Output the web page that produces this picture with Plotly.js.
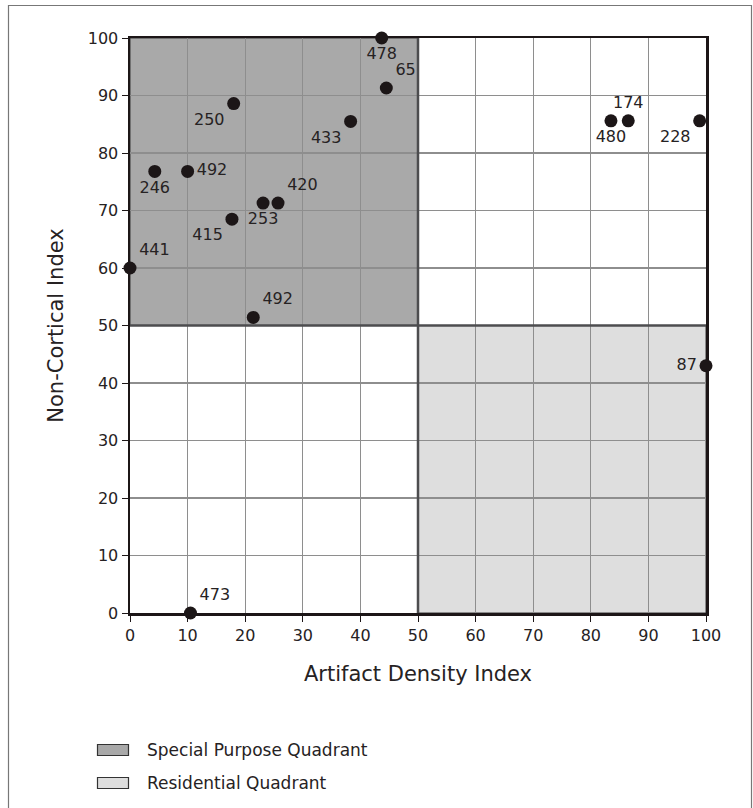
<!DOCTYPE html>
<html>
<head>
<meta charset="utf-8">
<script src="https://cdn.plot.ly/plotly-3.0.1.min.js"></script>
<style>
  html, body { margin: 0; padding: 0; background: #ffffff; }
  #chart { width: 753px; height: 808px; }
</style>
</head>
<body>
<div id="chart"></div>
<script>
// ---- data ----
const siteLabels = ['478', '65', '250', '433', '246', '492', '420', '253', '415', '441', '492', '480', '174', '228', '87', '473'];
const artifactDensity = [43.7, 44.5, 18.0, 38.3, 4.3, 10.0, 25.7, 23.1, 17.7, 0, 21.4, 83.5, 86.5, 98.9, 100, 10.5];
const nonCortical = [100, 91.3, 88.6, 85.5, 76.8, 76.8, 71.3, 71.3, 68.5, 60, 51.4, 85.6, 85.6, 85.6, 43, 0];
const labelPlacement = ['bottom center', 'top right', 'bottom left', 'bottom left', 'bottom center', 'middle right',
  'top right', 'bottom center', 'bottom left', 'top right', 'top right', 'bottom center', 'top center', 'bottom left',
  'middle left', 'top right'];

const axisMin = 0, axisMax = 100, quadrantSplit = 50;
const tickValues = [0, 10, 20, 30, 40, 50, 60, 70, 80, 90, 100];
const quadrantNames = ['Special Purpose Quadrant', 'Residential Quadrant'];
const quadrantColors = ['#a9a9a9', '#dedede'];
const xTitle = 'Artifact Density Index';
const yTitle = 'Non-Cortical Index';

const FONT = 'DejaVu Sans, sans-serif';
const INK = '#262223';

const points = {
  type: 'scatter',
  mode: 'markers+text',
  x: artifactDensity,
  y: nonCortical,
  text: siteLabels,
  textposition: labelPlacement,
  textfont: { family: FONT, size: 16, color: INK },
  marker: { size: 13, color: '#1c1617' },
  cliponaxis: false,
  showlegend: false,
  hoverinfo: 'x+y+text'
};

// helpers for converting figure pixels to paper coords (legend key placement)
const M = { l: 130, r: 47, t: 38, b: 195 };
const W = 753, H = 808;
const PW = W - M.l - M.r, PH = H - M.t - M.b;
const px = v => (v - M.l) / PW;
const py = v => (H - M.b - v) / PH;

const shapes = [
  // Special purpose quadrant (low artifact density, high non-cortical)
  { type: 'rect', xref: 'x', yref: 'y', layer: 'below',
    x0: axisMin, x1: quadrantSplit, y0: quadrantSplit, y1: axisMax,
    fillcolor: quadrantColors[0], line: { color: '#3a3a3a', width: 1 } },
  // Residential quadrant (high artifact density, low non-cortical)
  { type: 'rect', xref: 'x', yref: 'y', layer: 'below',
    x0: quadrantSplit, x1: axisMax, y0: axisMin, y1: quadrantSplit,
    fillcolor: quadrantColors[1], line: { color: '#3a3a3a', width: 1 } },
  // quadrant dividers
  { type: 'line', xref: 'x', yref: 'y', layer: 'above',
    x0: quadrantSplit, x1: quadrantSplit, y0: axisMin, y1: axisMax,
    line: { color: '#4d4d4f', width: 2.5 } },
  { type: 'line', xref: 'x', yref: 'y', layer: 'above',
    x0: axisMin, x1: axisMax, y0: quadrantSplit, y1: quadrantSplit,
    line: { color: '#4d4d4f', width: 2.5 } },
  // figure frame
  { type: 'rect', xref: 'paper', yref: 'paper', layer: 'below',
    x0: px(8.5), x1: px(751.5), y0: py(830), y1: py(5.5),
    line: { color: '#777777', width: 1.2 }, fillcolor: 'rgba(0,0,0,0)' }
];

// legend keys
const legendRows = [750, 783];
const annotations = [];
quadrantNames.forEach((name, i) => {
  const cy = legendRows[i];
  shapes.push({ type: 'rect', xref: 'paper', yref: 'paper', layer: 'above',
    x0: px(97.5), x1: px(128.5), y0: py(cy + 5.5), y1: py(cy - 5.5),
    fillcolor: quadrantColors[i], line: { color: '#333333', width: 1.2 } });
  annotations.push({ xref: 'paper', yref: 'paper', x: px(145), y: py(cy),
    xanchor: 'left', yanchor: 'middle', showarrow: false, text: name,
    font: { family: FONT, size: 17, color: INK } });
});

const axisCommon = {
  range: [axisMin, axisMax],
  tickvals: tickValues,
  ticktext: tickValues.map(String),
  showgrid: true,
  gridcolor: '#8e8e8e',
  gridwidth: 1.3,
  zeroline: false,
  showline: true,
  linecolor: '#1c1617',
  linewidth: 2.5,
  mirror: true,
  ticks: 'outside',
  ticklen: 6,
  tickwidth: 1,
  tickcolor: '#1c1617',
  tickfont: { family: FONT, size: 16, color: INK },
  fixedrange: true,
  automargin: false
};

const layout = {
  width: W,
  height: H,
  margin: M,
  paper_bgcolor: '#ffffff',
  plot_bgcolor: '#ffffff',
  font: { family: FONT, color: INK },
  xaxis: Object.assign({}, axisCommon, {
    title: { text: xTitle, font: { family: FONT, size: 21, color: INK }, standoff: 23 }
  }),
  yaxis: Object.assign({}, axisCommon, {
    title: { text: yTitle, font: { family: FONT, size: 21, color: INK }, standoff: 19 }
  }),
  showlegend: false,
  shapes: shapes,
  annotations: annotations
};

Plotly.newPlot('chart', [points], layout, { displayModeBar: false, staticPlot: true });
</script>
</body>
</html>
